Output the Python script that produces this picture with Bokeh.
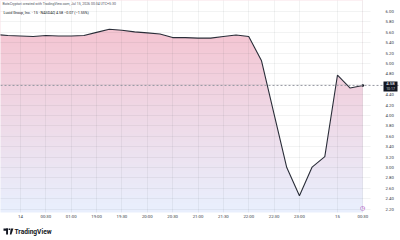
import numpy as np
from bokeh.plotting import figure
from bokeh.models import Range1d, FixedTicker, Label, Span, BoxAnnotation, PolyAnnotation
from bokeh.embed import file_html
from bokeh.resources import INLINE

# ---- data (15-minute bars, index along the TradingView time scale) ----
bar_index = list(range(-2, 28))
close = [5.56, 5.54, 5.53, 5.52, 5.54, 5.53, 5.53, 5.54, 5.60, 5.66,
         5.64, 5.61, 5.59, 5.57, 5.50, 5.50, 5.49, 5.49, 5.52, 5.55,
         5.52, 5.06, 4.03, 3.00, 2.46, 3.01, 3.21, 4.78, 4.53, 4.58]

x_tick_pos = [0, 2, 4, 6, 8, 10, 12, 14, 16, 18, 20, 22, 25, 27]
x_tick_labels = ["14", "00:30", "01:00", "19:00", "19:30", "20:00", "20:30",
                 "21:00", "21:30", "22:00", "22:30", "23:00", "15", "00:30"]
y_grid_vals = [round(2.2 + 0.2 * k, 2) for k in range(20)]
y_tick_vals = [v for v in y_grid_vals if abs(v - 4.6) > 1e-9]

header_1 = "BotsCryptori created with TradingView.com, Jul 15, 2026 00:34 UTC+5:30"
header_2 = "Lucid Group, Inc. · 15 · NASDAQ  4.58  −0.07 (−1.55%)"
last_label = "4.58"
countdown = "10:17"
brand = "TradingView"

FONT = "Roboto"
W, H = 400, 240

# pane geometry in data units (pane = left/top part, scales on right/bottom)
X0, X1 = -1.577, 29.97          # whole canvas width
Y0, Y1 = 1.598, 6.213           # whole canvas height
PANE_R = 27.6                   # where price scale begins
PANE_B = 2.1365                 # where time scale begins

p = figure(width=W, height=H, output_backend="svg", toolbar_location=None,
           x_range=Range1d(X0, X1), y_range=Range1d(Y0, Y1),
           y_axis_location="right", min_border=0,
           min_border_left=0, min_border_right=0, min_border_top=0, min_border_bottom=0,
           background_fill_color="white", border_fill_color="white",
           outline_line_color=None)

# gradient under the line: image + white mask above the line
N = 256
gy0, gy1 = PANE_B, 6.4
top_rgb = np.array([245, 196, 209], float)
bot_rgb = np.array([233, 240, 254], float)
img = np.empty((N, 1), dtype=np.uint32)
view = img.view(dtype=np.uint8).reshape((N, 1, 4))
for r in range(N):
    yv = gy0 + (gy1 - gy0) * r / (N - 1)
    t = np.clip((yv - 2.15) / (5.7 - 2.15), 0, 1)
    c = bot_rgb + (top_rgb - bot_rgb) * t
    view[r, 0, 0:3] = c.astype(np.uint8)
    view[r, 0, 3] = 255
p.image_rgba(image=[img], x=bar_index[0], y=gy0, dw=bar_index[-1] - bar_index[0], dh=gy1 - gy0)
p.varea(x=bar_index, y1=close, y2=[gy1] * len(close), fill_color="white")

# grid (limited to the pane)
p.xgrid.ticker = FixedTicker(ticks=x_tick_pos)
p.ygrid.ticker = FixedTicker(ticks=y_grid_vals)
for g in (p.xgrid, p.ygrid):
    g.grid_line_color = "#2a2e39"
    g.grid_line_alpha = 0.06
    g.level = "annotation"
xg, yg = p.xgrid[0], p.ygrid[0]
if "cross_bounds" in xg.properties():
    xg.cross_bounds = (PANE_B, Y1)
    yg.cross_bounds = (X0, PANE_R)
    xg.bounds = (X0, PANE_R)
    yg.bounds = (PANE_B, Y1)
else:
    xg.visible = False
    yg.visible = False
    p.segment(x0=x_tick_pos, x1=x_tick_pos, y0=[PANE_B] * len(x_tick_pos), y1=[Y1] * len(x_tick_pos),
              line_color="#2a2e39", line_alpha=0.06)
    p.segment(x0=[X0] * len(y_grid_vals), x1=[PANE_R] * len(y_grid_vals), y0=y_grid_vals, y1=y_grid_vals,
              line_color="#2a2e39", line_alpha=0.06)

# last-price dashed line
p.add_layout(Span(location=close[-1], dimension="width", line_color="#9598a1",
                  line_dash="2 2", line_width=1))

p.line(bar_index, close, line_color="#2a2e39", line_width=1.1)
p.scatter([bar_index[-1]], [close[-1]], size=2.6, color="#131722", line_color=None)

# axes, pinned at the pane edges so that they take no border space
xa = p.xaxis[0]
xa.fixed_location = PANE_B
xa.ticker = FixedTicker(ticks=x_tick_pos)
xa.major_label_overrides = {t: l for t, l in zip(x_tick_pos, x_tick_labels)}
ya = p.yaxis[0]
ya.fixed_location = PANE_R
ya.ticker = FixedTicker(ticks=y_tick_vals)
ya.major_label_overrides = {v: f"{v:.2f}" for v in y_tick_vals}
for ax in (xa, ya):
    ax.axis_line_color = None
    ax.major_tick_line_color = None
    ax.minor_tick_line_color = None
    ax.major_tick_out = 0
    ax.major_tick_in = 0
    ax.minor_tick_out = 0
    ax.minor_tick_in = 0
    ax.major_label_text_font = FONT
    ax.major_label_text_font_size = "4.3px"
    ax.major_label_text_color = "#363a45"
xa.major_label_standoff = 2
ya.major_label_standoff = 15

# header texts (screen units from canvas bottom-left)
p.add_layout(Label(x=2, y=H - 1, x_units="screen", y_units="screen", text=header_1,
                   text_font=FONT, text_font_size="3.5px", text_color="#50535e",
                   text_baseline="top"))
p.add_layout(Label(x=3, y=H - 10.8, x_units="screen", y_units="screen", text=header_2,
                   text_font=FONT, text_font_size="3.7px", text_color="#131722",
                   text_baseline="top"))

# last price box on the price scale
p.add_layout(BoxAnnotation(left=383, right=397, bottom=close[-1] - 0.115, top=close[-1] + 0.075,
                           left_units="screen", right_units="screen",
                           fill_color="#131722", fill_alpha=1, line_color=None,
                           level="overlay"))
p.add_layout(Label(x=390, y=close[-1] + 0.005, x_units="screen", text=last_label,
                   text_font=FONT, text_font_size="4.3px", text_color="white",
                   text_align="center", text_baseline="bottom", level="overlay"))
p.add_layout(Label(x=390, y=close[-1] - 0.1, x_units="screen", text=countdown,
                   text_font=FONT, text_font_size="3.5px", text_color="#d1d4dc",
                   text_align="center", text_baseline="bottom", level="overlay"))

# small purple chart icon near the time scale
p.add_layout(Label(x=362, y=H - 207, x_units="screen", y_units="screen", text="◷",
                   text_font="DejaVu Sans", text_font_size="6px", text_color="#9c27b0",
                   text_align="center", text_baseline="middle"))

# TradingView logo + wordmark
def sbox(l, r, t, b):
    return BoxAnnotation(left=l, right=r, bottom=H - b, top=H - t,
                         left_units="screen", right_units="screen",
                         bottom_units="screen", top_units="screen",
                         fill_color="#131722", fill_alpha=1, line_color=None, level="overlay")

p.add_layout(sbox(3, 7.5, 228, 230.2))
p.add_layout(sbox(5.6, 7.5, 228, 234))
p.add_layout(PolyAnnotation(xs=[8.1, 9.6, 9.6, 8.1], ys=[H - 228, H - 228, H - 229.6, H - 229.6],
                            xs_units="screen", ys_units="screen",
                            fill_color="#131722", fill_alpha=1, line_color=None))
p.add_layout(PolyAnnotation(xs=[10.2, 12.9, 10.9, 9.4], ys=[H - 228, H - 228, H - 234, H - 234],
                            xs_units="screen", ys_units="screen",
                            fill_color="#131722", fill_alpha=1, line_color=None))
p.add_layout(Label(x=14, y=H - 231, x_units="screen", y_units="screen", text=brand,
                   text_font=FONT, text_font_size="6.6px", text_font_style="bold",
                   text_color="#131722", text_baseline="middle"))

open("out.html", "w").write(file_html(p, INLINE))
